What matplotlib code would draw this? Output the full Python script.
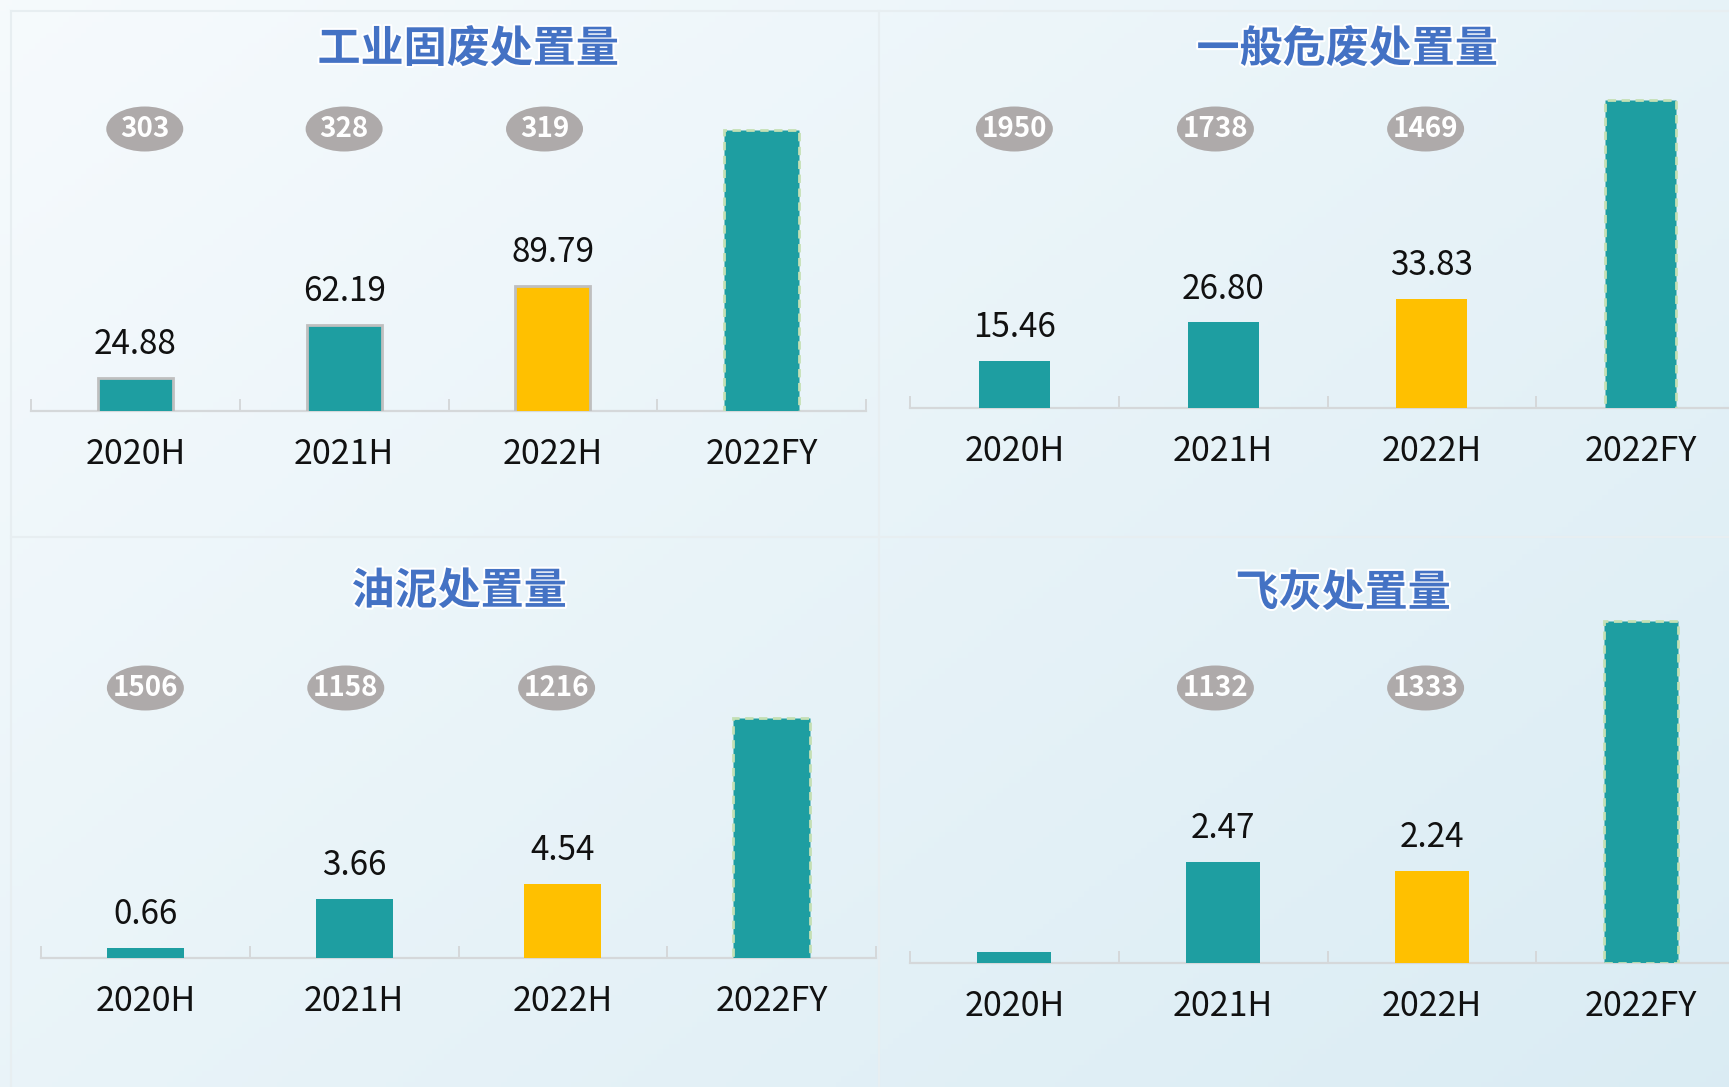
import matplotlib.pyplot as plt
import numpy as np
from matplotlib import patheffects
from matplotlib.patches import Ellipse
from matplotlib.transforms import blended_transform_factory

plt.rcParams["font.family"] = ["Noto Sans CJK SC", "DejaVu Sans"]

categories = ["2020H", "2021H", "2022H", "2022FY"]

solid_title = "工业固废处置量"
solid_values = [24.88, 62.19, 89.79, 200]
solid_labels = ["24.88", "62.19", "89.79", ""]
solid_badges = ["303", "328", "319"]

hazard_title = "一般危废处置量"
hazard_values = [15.46, 26.80, 33.83, 93]
hazard_labels = ["15.46", "26.80", "33.83", ""]
hazard_badges = ["1950", "1738", "1469"]

sludge_title = "油泥处置量"
sludge_values = [0.66, 3.66, 4.54, 14.6]
sludge_labels = ["0.66", "3.66", "4.54", ""]
sludge_badges = ["1506", "1158", "1216"]

flyash_title = "飞灰处置量"
flyash_values = [0.27, 2.47, 2.24, 8.35]
flyash_labels = ["", "2.47", "2.24", ""]
flyash_badges = ["", "1132", "1333"]

TEAL = "#1E9EA1"
YELLOW = "#FFC000"
BADGE = "#AEAAAA"
TITLE_BLUE = "#4472C4"
AXIS_GREY = "#D5D8DA"

W, H = 1729, 1087
fig = plt.figure(figsize=(W / 100, H / 100), dpi=100)

# background: soft diagonal gradient
bg = fig.add_axes([0, 0, 1, 1], zorder=-10)
yy, xx = np.mgrid[0:1:200j, 0:1:300j]
t = 0.55 * xx + 0.45 * yy
c0 = np.array([0.965, 0.982, 0.992])
c1 = np.array([0.855, 0.925, 0.955])
img = c0[None, None, :] * (1 - t[..., None]) + c1[None, None, :] * t[..., None]
bg.imshow(img, aspect="auto", extent=[0, 1, 0, 1], origin="upper")
bg.set_xlim(0, 1)
bg.set_ylim(0, 1)
bg.axis("off")

# faint panel frames
for x0, y0, x1, y1 in [(11, 11, 1729, 11), (11, 11, 11, 1087),
                       (879, 11, 879, 1087), (11, 537, 1729, 537)]:
    bg.plot([x0 / W, x1 / W], [1 - y0 / H, 1 - y1 / H], color="#E7EEF1", lw=1.5)


def panel(title, values, labels, badges, left, baseline, ylim, width,
          title_xy, badge_y, badge_shift, edge_grey=False):
    axh = 380
    ax = fig.add_axes([left / W, 1 - baseline / H, 835 / W, axh / H])
    ax.patch.set_alpha(0)
    x = np.arange(len(categories))
    colors = [TEAL, TEAL, YELLOW, TEAL]
    for i, v in enumerate(values):
        if i == 3:
            ax.bar(x[i], v, width, color=TEAL, edgecolor="#C5E0B4",
                   linestyle=(0, (3, 2)), linewidth=2, zorder=3)
        else:
            ax.bar(x[i], v, width, color=colors[i],
                   edgecolor="#BFBFBF" if edge_grey else "none",
                   linewidth=2 if edge_grey else 0, zorder=3)
        if labels[i]:
            ax.annotate(labels[i], (x[i], v), xytext=(0, 24),
                        textcoords="offset points", ha="center", va="center",
                        fontsize=24, color="#111111")
        ax.annotate(categories[i], (x[i], ylim[0]), xytext=(0, -31.5),
                    textcoords="offset points", ha="center", va="center",
                    fontsize=24.5, color="#111111", annotation_clip=False)
    ax.set_xlim(-0.5, 3.5)
    ax.set_ylim(*ylim)
    for s in ["top", "right", "left"]:
        ax.spines[s].set_visible(False)
    ax.spines["bottom"].set_color(AXIS_GREY)
    ax.spines["bottom"].set_linewidth(1.6)
    ax.set_yticks([])
    ax.set_xticks(np.arange(-0.5, 4, 1))
    ax.set_xticklabels([])
    ax.tick_params(axis="x", direction="in", length=9, width=1.4,
                   color=AXIS_GREY)

    trans = blended_transform_factory(ax.transData, fig.transFigure)
    for i, b in enumerate(badges):
        if not b:
            continue
        bx = x[i] + badge_shift[i]
        ax.add_patch(Ellipse((bx, 1 - badge_y / H), 77 / 208.8, 45 / H,
                             transform=trans, facecolor=BADGE,
                             edgecolor="none", clip_on=False, zorder=4))
        ax.text(bx, 1 - badge_y / H, b, transform=trans, ha="center",
                va="center", fontsize=20, fontweight="bold", color="white",
                zorder=5)

    fig.text(title_xy[0] / W, 1 - title_xy[1] / H, title, ha="center",
             va="center", fontsize=31, fontweight="bold", color=TITLE_BLUE,
             path_effects=[patheffects.withStroke(linewidth=3,
                                                  foreground="white")])


panel(solid_title, solid_values, solid_labels, solid_badges,
      31, 411, (1.6, 269.8), 0.36, (468, 49), 129, [0.045, 0, -0.04],
      edge_grey=True)
panel(hazard_title, hazard_values, hazard_labels, hazard_badges,
      910, 408, (1.37, 114.3), 0.34, (1347, 49), 129, [0, -0.037, -0.03])
panel(sludge_title, sludge_values, sludge_labels, sludge_badges,
      41, 958, (0.06, 23.1), 0.37, (459, 591), 688, [0, -0.04, -0.03])
panel(flyash_title, flyash_values, flyash_labels, flyash_badges,
      910, 963, (0, 9.28), 0.355, (1343, 593), 688, [0, -0.037, -0.03])

fig.savefig("out.png", dpi=100)
